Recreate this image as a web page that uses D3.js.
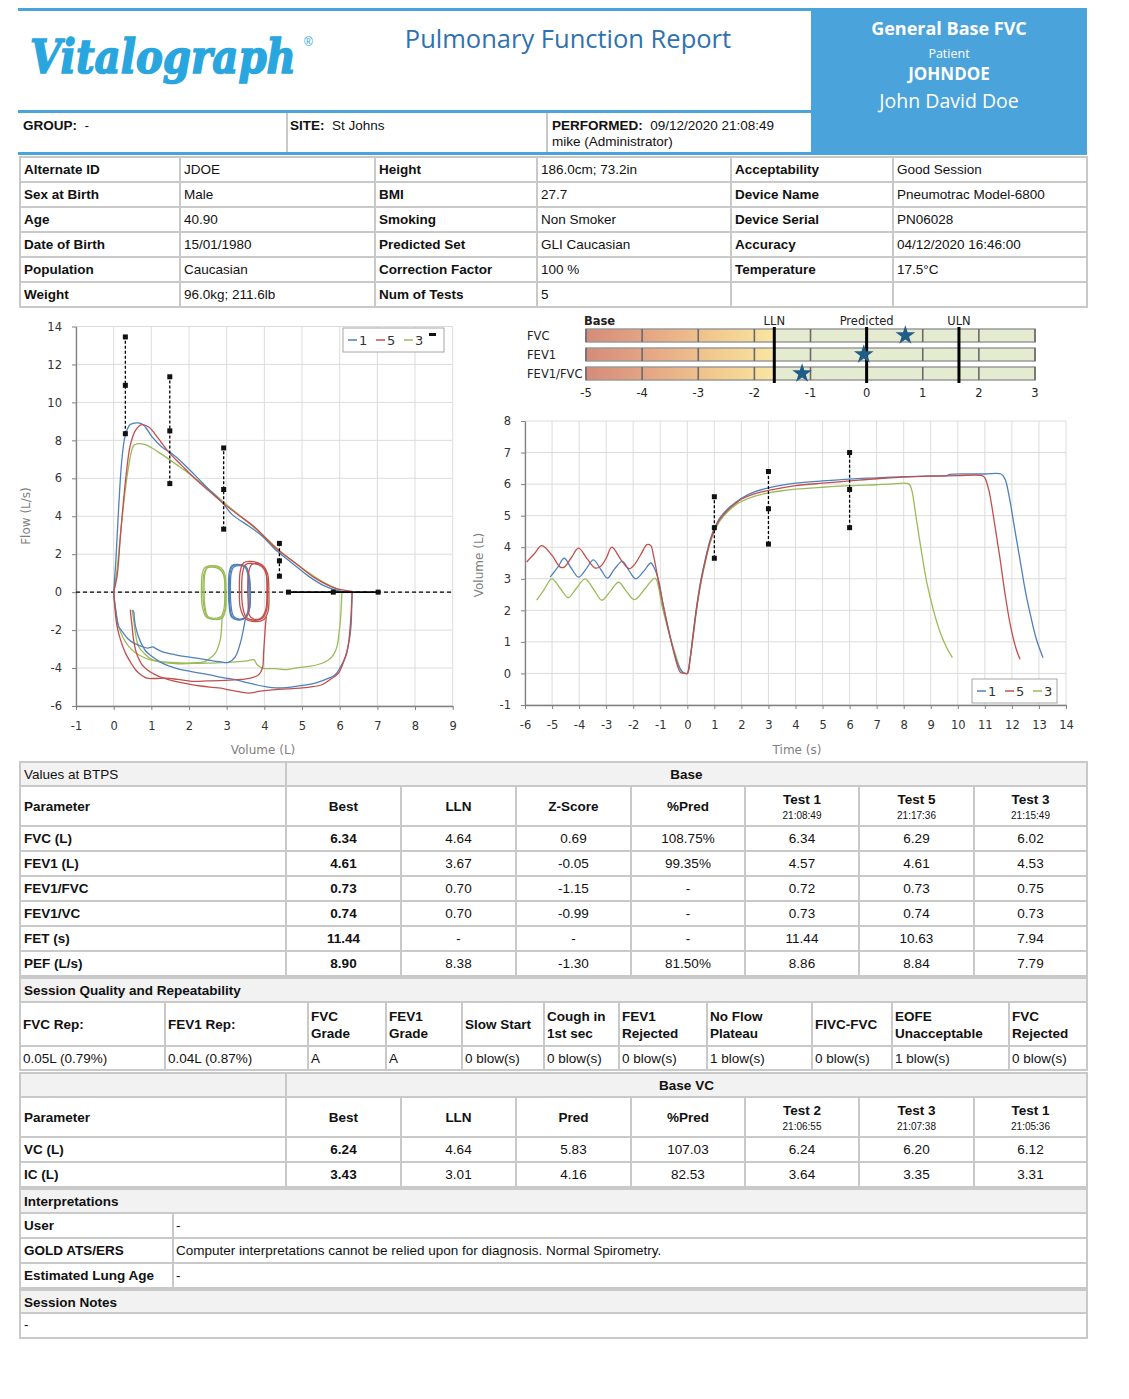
<!DOCTYPE html>
<html><head><meta charset="utf-8">
<script src="https://cdn.jsdelivr.net/npm/d3@7"></script>
<style>body{margin:0;background:#fff}</style>
</head><body>
<svg id="c" width="1129" height="1399"></svg>
<script>
// ---------------- DATA ----------------
const reportTitle = "Pulmonary Function Report";
const logoText = "Vitalograph";
const boxLines = ["General Base FVC","Patient","JOHNDOE","John David Doe"];
const infoCells = [["GROUP:","-"],["SITE:","St Johns"],["PERFORMED:","09/12/2020 21:08:49","mike (Administrator)"]];

const demoRows = [
 ["Alternate ID","JDOE","Height","186.0cm; 73.2in","Acceptability","Good Session"],
 ["Sex at Birth","Male","BMI","27.7","Device Name","Pneumotrac Model-6800"],
 ["Age","40.90","Smoking","Non Smoker","Device Serial","PN06028"],
 ["Date of Birth","15/01/1980","Predicted Set","GLI Caucasian","Accuracy","04/12/2020 16:46:00"],
 ["Population","Caucasian","Correction Factor","100 %","Temperature","17.5°C"],
 ["Weight","96.0kg; 211.6lb","Num of Tests","5","",""]
];

const tests = ["1","5","3"];
const testColors = ["#4f81bd","#c0504d","#9bbb59"];

// Flow-volume: tidal loops, inspiration to TLC, forced expiration, final inspiration  [volume L, flow L/s]
const fvTidal = [
 [ [[3.07,0],[3.09,1.0],[3.16,1.38],[3.32,1.44],[3.5,1.36],[3.58,0.9],[3.62,0],[3.6,-0.9],[3.5,-1.35],[3.32,-1.46],[3.15,-1.3],[3.08,-0.6],[3.07,0]],
   [[3.1,0],[3.12,1.0],[3.19,1.33],[3.34,1.4],[3.52,1.3],[3.6,0.85],[3.63,0],[3.61,-0.85],[3.52,-1.3],[3.34,-1.42],[3.18,-1.26],[3.11,-0.6],[3.1,0]],
   [[3.05,0],[3.07,1.05],[3.14,1.4],[3.3,1.46],[3.47,1.38],[3.56,0.95],[3.59,0],[3.57,-0.95],[3.47,-1.38],[3.3,-1.46],[3.13,-1.32],[3.06,-0.6],[3.05,0]] ],
 [ [[3.34,0],[3.36,1.1],[3.45,1.55],[3.65,1.62],[3.92,1.45],[4.08,1.0],[4.12,0],[4.1,-1.0],[3.98,-1.45],[3.75,-1.55],[3.5,-1.4],[3.36,-0.8],[3.34,0]],
   [[3.4,0],[3.42,1.0],[3.5,1.45],[3.68,1.52],[3.93,1.35],[4.05,0.95],[4.08,0],[4.06,-0.95],[3.95,-1.38],[3.75,-1.48],[3.52,-1.32],[3.42,-0.7],[3.4,0]],
   [[3.56,0],[3.58,1.0],[3.66,1.45],[3.85,1.5],[4.0,1.3],[4.06,0.8],[4.07,0],[4.04,-0.9],[3.92,-1.35],[3.72,-1.42],[3.6,-1.2],[3.57,-0.5],[3.56,0]] ],
 [ [[2.33,0],[2.35,0.95],[2.42,1.3],[2.58,1.38],[2.78,1.3],[2.92,0.95],[2.97,0],[2.96,-0.9],[2.86,-1.35],[2.65,-1.42],[2.45,-1.3],[2.35,-0.7],[2.33,0]],
   [[2.37,0],[2.39,0.9],[2.46,1.25],[2.6,1.32],[2.8,1.22],[2.92,0.9],[2.95,0],[2.93,-0.85],[2.84,-1.3],[2.65,-1.38],[2.47,-1.25],[2.39,-0.65],[2.37,0]],
   [[2.4,0],[2.42,0.95],[2.5,1.35],[2.64,1.4],[2.84,1.3],[2.95,0.95],[2.98,0],[2.97,-0.9],[2.88,-1.38],[2.68,-1.44],[2.5,-1.3],[2.42,-0.7],[2.4,0]] ]
];
const fvInsp = [
 [[3.5,-1.35],[3.42,-2.2],[3.36,-2.7],[3.23,-3.4],[3.05,-3.7],[2.8,-3.66],[2.52,-3.58],[2.1,-3.45],[1.64,-3.3],[1.3,-3.15],[1.1,-2.95],[1.05,-2.88],[0.9,-2.95],[0.75,-2.86],[0.55,-2.7],[0.4,-2.5],[0.2,-2.0],[0.13,-1.8],[0.06,-1.0],[0.02,-0.4],[0,0]],
 [[4.05,-1.3],[4.02,-2.0],[3.98,-3.2],[3.95,-4.0],[3.85,-4.35],[3.6,-4.55],[3.2,-4.62],[2.96,-4.65],[2.5,-4.68],[2.08,-4.7],[1.7,-4.6],[1.37,-4.53],[1.1,-4.55],[0.88,-4.53],[0.72,-4.35],[0.58,-4.09],[0.45,-3.7],[0.31,-3.2],[0.18,-2.5],[0.09,-1.8],[0.03,-0.8],[0,0]],
 [[2.88,-1.35],[2.86,-2.0],[2.83,-2.5],[2.7,-3.21],[2.55,-3.5],[2.43,-3.65],[2.2,-3.72],[1.9,-3.74],[1.5,-3.7],[1.19,-3.65],[0.95,-3.55],[0.75,-3.39],[0.55,-3.15],[0.4,-2.86],[0.25,-2.4],[0.13,-1.8],[0.05,-0.9],[0,0]]
];
const fvExp = [
 [[0,0],[0.06,1.72],[0.13,4.37],[0.22,7.03],[0.31,8.27],[0.44,8.83],[0.66,8.92],[0.8,8.8],[1.02,8.18],[1.28,7.65],[1.55,7.29],[1.81,6.85],[2.17,6.14],[2.52,5.43],[2.88,4.73],[3.14,4.1],[3.58,3.49],[3.94,2.96],[4.29,2.25],[4.73,1.54],[5.18,0.83],[5.62,0.3],[5.97,0.07],[6.33,0]],
 [[0,0],[0.09,0.83],[0.18,2.96],[0.31,5.79],[0.44,7.73],[0.58,8.53],[0.75,8.83],[0.93,8.7],[1.19,8.09],[1.46,7.38],[1.81,6.67],[2.17,5.96],[2.52,5.35],[2.88,4.73],[3.23,4.19],[3.76,3.4],[4.29,2.34],[4.82,1.54],[5.35,0.74],[5.88,0.21],[6.33,0.04]],
 [[0,0],[0.09,1.19],[0.22,3.84],[0.4,6.67],[0.53,7.73],[0.62,7.82],[0.84,7.77],[1.19,7.38],[1.64,6.76],[2.08,6.14],[2.52,5.43],[2.88,4.81],[3.41,3.93],[3.94,3.04],[4.47,2.07],[5.0,1.27],[5.53,0.57],[5.97,0.12],[6.06,0]]
];
const fvFinal = [
 [[6.33,0],[6.32,-0.8],[6.3,-1.8],[6.25,-2.6],[6.15,-3.39],[6.02,-3.95],[5.88,-4.35],[5.6,-4.62],[5.35,-4.79],[5.0,-4.92],[4.65,-5.02],[4.3,-5.05],[4.03,-4.98],[3.6,-4.8],[3.23,-4.61],[2.9,-4.5],[2.52,-4.35],[2.1,-4.2],[1.64,-4.0],[1.3,-3.75],[1.02,-3.39],[0.85,-3.1],[0.75,-2.77],[0.65,-2.3],[0.58,-1.8],[0.55,-1.4],[0.53,-1.02],[0.5,-0.95]],
 [[6.33,0],[6.31,-0.9],[6.28,-1.8],[6.24,-2.6],[6.19,-3.2],[6.08,-3.8],[5.97,-4.26],[5.75,-4.6],[5.53,-4.88],[5.2,-5.0],[5.0,-5.05],[4.6,-5.1],[4.29,-5.14],[3.9,-5.22],[3.58,-5.32],[3.35,-5.25],[3.14,-5.18],[2.79,-5.05],[2.35,-4.96],[2.0,-4.85],[1.64,-4.7],[1.35,-4.55],[1.1,-4.35],[0.9,-4.1],[0.75,-3.82],[0.65,-3.45],[0.58,-3.04],[0.52,-2.4],[0.49,-1.8],[0.46,-1.3],[0.44,-0.93]],
 [[6.06,0],[6.04,-0.8],[6.02,-1.46],[5.98,-2.2],[5.93,-2.86],[5.85,-3.25],[5.71,-3.56],[5.45,-3.8],[5.18,-3.91],[4.9,-3.98],[4.6,-4.08],[4.29,-4.03],[3.94,-4.0],[3.8,-3.8],[3.72,-3.56],[3.55,-3.62],[3.41,-3.65],[3.0,-3.7],[2.52,-3.74],[2.1,-3.75],[1.64,-3.77],[1.3,-3.7],[1.02,-3.56],[0.82,-3.25],[0.66,-2.86],[0.58,-2.2],[0.53,-1.46],[0.49,-0.93]]
];
// predicted markers on flow-volume: [volume, LLN, pred, ULN]
const fvBars = [[0.31,8.35,10.9,13.45],[1.49,5.72,8.5,11.35],[2.92,3.32,5.41,7.6],[4.4,0.84,1.65,2.57]];
const fvcRange = [4.64,5.83,7.02];

// Volume-time [time s, volume L]
const vtSeries = [
 [[-5.07,3.05],[-4.8,3.35],[-4.55,3.65],[-4.3,3.35],[-4.02,3.05],[-3.75,3.3],[-3.47,3.6],[-3.2,3.3],[-2.95,3.02],[-2.7,3.3],[-2.4,3.55],[-2.15,3.25],[-1.9,3.0],[-1.6,3.25],[-1.35,3.5],[-1.2,3.3],[-1.05,2.9],[-0.9,2.2],[-0.7,1.4],[-0.5,0.7],[-0.3,0.2],[-0.15,0.03],[0,0],[0.1,0.45],[0.2,1.15],[0.35,2.15],[0.5,2.95],[0.7,3.75],[0.85,4.25],[1.0,4.6],[1.2,4.92],[1.5,5.22],[1.8,5.43],[2.0,5.55],[2.5,5.76],[3.0,5.88],[3.5,5.97],[4.0,6.03],[5.0,6.1],[6.0,6.16],[7.0,6.2],[8.0,6.24],[9.0,6.26],[9.6,6.27],[9.7,6.31],[11.0,6.32],[11.6,6.32],[11.75,6.15],[11.9,5.6],[12.1,4.6],[12.3,3.6],[12.5,2.6],[12.7,1.8],[12.9,1.1],[13.15,0.5]],
 [[-5.94,3.53],[-5.65,3.8],[-5.38,4.05],[-5.0,3.74],[-4.7,3.37],[-4.55,3.37],[-4.3,3.65],[-4.02,3.97],[-3.7,3.63],[-3.4,3.34],[-3.2,3.4],[-3.0,3.65],[-2.79,4.0],[-2.45,3.6],[-2.15,3.32],[-1.95,3.45],[-1.7,3.8],[-1.49,4.08],[-1.35,4.05],[-1.25,3.74],[-1.06,2.89],[-0.81,1.84],[-0.56,0.89],[-0.37,0.26],[-0.25,0.03],[-0.06,0],[0,0],[0.1,0.45],[0.2,1.1],[0.35,2.1],[0.5,2.9],[0.7,3.7],[0.85,4.2],[1.0,4.55],[1.2,4.88],[1.5,5.18],[1.8,5.4],[2.0,5.52],[2.5,5.7],[3.0,5.8],[3.5,5.88],[4.0,5.95],[5.0,6.03],[6.0,6.1],[7.0,6.17],[8.0,6.22],[9.0,6.25],[10.0,6.27],[10.9,6.27],[11.0,6.2],[11.15,5.8],[11.35,4.8],[11.55,3.7],[11.75,2.5],[11.95,1.5],[12.15,0.8],[12.3,0.45]],
 [[-5.57,2.32],[-5.3,2.65],[-5.01,3.0],[-4.7,2.7],[-4.4,2.4],[-4.1,2.7],[-3.78,3.0],[-3.45,2.65],[-3.16,2.32],[-2.85,2.6],[-2.54,2.89],[-2.25,2.6],[-1.95,2.34],[-1.55,2.7],[-1.19,3.02],[-0.94,2.16],[-0.69,1.32],[-0.43,0.58],[-0.19,0.05],[0,0],[0.1,0.42],[0.2,1.05],[0.35,2.05],[0.5,2.85],[0.7,3.65],[0.85,4.15],[1.0,4.5],[1.2,4.83],[1.5,5.13],[1.8,5.35],[2.0,5.45],[2.5,5.62],[3.0,5.72],[3.5,5.79],[4.0,5.84],[5.0,5.9],[6.0,5.95],[7.0,5.98],[7.5,6.0],[8.2,6.0],[8.3,5.8],[8.45,5.0],[8.65,3.9],[8.85,2.9],[9.1,2.0],[9.35,1.3],[9.6,0.8],[9.8,0.5]]
];
const vtBars = [[1,3.65,4.62,5.6],[3,4.1,5.22,6.4],[6,4.62,5.83,7.0]];

const fvXTicks = [-1,0,1,2,3,4,5,6,7,8,9];
const fvYTicks = [-6,-4,-2,0,2,4,6,8,10,12,14];
const vtXTicks = d3.range(-6,15);
const vtYTicks = d3.range(-1,9);

// Z-score
const zParams = ["FVC","FEV1","FEV1/FVC"];
const zScores = [0.69,-0.05,-1.15];
const zTicks = [-5,-4,-3,-2,-1,0,1,2,3];
const zLLN = -1.645, zULN = 1.645;
const zHeads = [["LLN",-1.645],["Predicted",0],["ULN",1.645]];

// Tables
const btpsHeaders = ["Best","LLN","Z-Score","%Pred"];
const btpsTests = ["Test 1","Test 5","Test 3"];
const btpsTimes = ["21:08:49","21:17:36","21:15:49"];
const btpsParams = ["FVC (L)","FEV1 (L)","FEV1/FVC","FEV1/VC","FET (s)","PEF (L/s)"];
const btpsBest = ["6.34","4.61","0.73","0.74","11.44","8.90"];
const btpsLLN = ["4.64","3.67","0.70","0.70","-","8.38"];
const btpsZ = ["0.69","-0.05","-1.15","-0.99","-","-1.30"];
const btpsPct = ["108.75%","99.35%","-","-","-","81.50%"];
const btpsT1 = ["6.34","4.57","0.72","0.73","11.44","8.86"];
const btpsT5 = ["6.29","4.61","0.73","0.74","10.63","8.84"];
const btpsT3 = ["6.02","4.53","0.75","0.73","7.94","7.79"];

const sqHeaders = [["FVC Rep:"],["FEV1 Rep:"],["FVC","Grade"],["FEV1","Grade"],["Slow Start"],["Cough in","1st sec"],["FEV1","Rejected"],["No Flow","Plateau"],["FIVC-FVC"],["EOFE","Unacceptable"],["FVC","Rejected"]];
const sqValues = ["0.05L (0.79%)","0.04L (0.87%)","A","A","0 blow(s)","0 blow(s)","0 blow(s)","1 blow(s)","0 blow(s)","1 blow(s)","0 blow(s)"];

const vcHeaders = ["Best","LLN","Pred","%Pred"];
const vcTests = ["Test 2","Test 3","Test 1"];
const vcTimes = ["21:06:55","21:07:38","21:05:36"];
const vcParams = ["VC (L)","IC (L)"];
const vcBest = ["6.24","3.43"], vcLLN = ["4.64","3.01"], vcPred = ["5.83","4.16"], vcPct = ["107.03","82.53"];
const vcT2 = ["6.24","3.64"], vcT3 = ["6.20","3.35"], vcT1 = ["6.12","3.31"];

const interpRows = [["User","-"],["GOLD ATS/ERS","Computer interpretations cannot be relied upon for diagnosis. Normal Spirometry."],["Estimated Lung Age","-"]];
const sessionNotes = "-";

// ---------------- DRAW ----------------
const svg = d3.select("#c");
const F = '"Liberation Sans", Arial, sans-serif';
const FC = '"DejaVu Sans", Verdana, sans-serif';
const FH = '"Open Sans", "Noto Sans", sans-serif';
const BLUE = "#4ba3dc";
const GRID = "#c9c9c9";

function txt(g,x,y,s,o={}){
  return g.append("text").attr("x",x).attr("y",y).text(s)
    .attr("font-family",o.ff||F).attr("font-size",o.fs||13.5)
    .attr("font-weight",o.fw||"normal").attr("text-anchor",o.ta||"start")
    .attr("fill",o.fill||"#111");
}
function cell(x0,x1,y0,y1,fill){
  svg.append("rect").attr("x",x0).attr("y",y0).attr("width",x1-x0).attr("height",y1-y0)
    .attr("fill",fill||"#fff").attr("stroke",GRID).attr("stroke-width",2);
}

// Header
svg.append("rect").attr("x",18).attr("y",8).attr("width",793).attr("height",3).attr("fill",BLUE);
svg.append("rect").attr("x",811).attr("y",8).attr("width",276).attr("height",146).attr("fill",BLUE);
svg.append("rect").attr("x",18).attr("y",110).attr("width",793).attr("height",3).attr("fill",BLUE);
svg.append("rect").attr("x",18).attr("y",152).attr("width",1069).attr("height",3).attr("fill",BLUE);
[287,547].forEach(x=>svg.append("line").attr("x1",x).attr("x2",x).attr("y1",113).attr("y2",152).attr("stroke",GRID).attr("stroke-width",2));

// logo: measured so its natural width is 266px, then stretched vertically
const logoG = svg.append("g");
const logo = logoG.append("text").attr("x",0).attr("y",0).text(logoText)
  .attr("font-family",'"DejaVu Serif", serif').attr("font-size",46).attr("font-weight","bold")
  .attr("font-style","italic").attr("fill","#2aa6df").attr("stroke","#2aa6df").attr("stroke-width",1.4);
const natural = logo.node().getComputedTextLength();
const k = 266/natural;
logo.attr("font-size",46*k);
logoG.attr("transform",`translate(30,73) scale(1,${(1/k).toFixed(3)})`);
txt(svg,304,46,"®",{ff:F,fs:12,fill:"#2aa6df"});

txt(svg,568,48,reportTitle,{ff:FH,fs:25.5,ta:"middle",fill:"#2f72b0"});
txt(svg,949,35,boxLines[0],{ff:FH,fs:18,fw:"bold",ta:"middle",fill:"#fff"});
txt(svg,949,58,boxLines[1],{ff:FH,fs:12.5,ta:"middle",fill:"#fff"});
txt(svg,949,80,boxLines[2],{ff:FH,fs:17,fw:"bold",ta:"middle",fill:"#fff"});
txt(svg,949,108,boxLines[3],{ff:FH,fs:19.5,ta:"middle",fill:"#fff"});

const infoX = [23,290,552];
infoCells.forEach((c,i)=>{
  const t = txt(svg,infoX[i],130,"",{});
  t.append("tspan").attr("font-weight","bold").text(c[0]);
  t.append("tspan").text("\u00a0 "+c[1]);
  if(c[2]) txt(svg,infoX[i],146,c[2],{});
});

// Demographics table
const demoCols = [20,180,375,537,731,893,1087];
demoRows.forEach((r,ri)=>{
  const y0 = 157+ri*25;
  r.forEach((v,ci)=>cell(demoCols[ci],demoCols[ci+1],y0,y0+25));
});
demoRows.forEach((r,ri)=>{
  const y0 = 157+ri*25;
  r.forEach((v,ci)=>txt(svg,demoCols[ci]+4,y0+17,v,{fw:ci%2===0?"bold":"normal"}));
});

// ---------- Chart helpers ----------
function frame(x,y,xt,yt,xTitle,yTitle,xtX,ytX,ytY){
  const g = svg.append("g");
  const [x0,x1] = x.range(), [y0,y1] = y.range();
  g.selectAll(".gx").data(xt).join("line").attr("x1",d=>x(d)).attr("x2",d=>x(d)).attr("y1",y0).attr("y2",y1).attr("stroke","#dcdcdc");
  g.selectAll(".gy").data(yt).join("line").attr("y1",d=>y(d)).attr("y2",d=>y(d)).attr("x1",x0).attr("x2",x1).attr("stroke","#dcdcdc");
  const ax = g.append("g").attr("transform",`translate(0,${y0})`)
    .call(d3.axisBottom(x).tickValues(xt).tickFormat(d=>String(d)).tickSize(4).tickPadding(12).tickSizeOuter(0));
  const ay = g.append("g").attr("transform",`translate(${x0},0)`)
    .call(d3.axisLeft(y).tickValues(yt).tickFormat(d=>String(d)).tickSize(4).tickPadding(10).tickSizeOuter(0));
  [ax,ay].forEach(a=>{
    a.select(".domain").attr("stroke","#808080").attr("stroke-width",1.3);
    a.selectAll(".tick line").attr("stroke","#808080");
    a.selectAll("text").attr("font-family",FC).attr("font-size",11.5).attr("fill","#333");
  });
  txt(g,xtX,754,xTitle,{ff:FC,fs:12,ta:"middle",fill:"#7f7f7f"});
  txt(g,0,0,yTitle,{ff:FC,fs:12,ta:"middle",fill:"#7f7f7f"}).attr("transform",`translate(${ytX},${ytY}) rotate(-90)`);
  return g;
}
function errBars(g,x,y,bars){
  bars.forEach(b=>{
    g.append("line").attr("x1",x(b[0])).attr("x2",x(b[0])).attr("y1",y(b[1])).attr("y2",y(b[3]))
      .attr("stroke","#000").attr("stroke-width",1.3).attr("stroke-dasharray","3,2");
    [b[1],b[2],b[3]].forEach(v=>g.append("rect").attr("x",x(b[0])-2.5).attr("y",y(v)-2.5).attr("width",5).attr("height",5).attr("fill","#111"));
  });
}
function legend(g,x0,y0,w,h,extra){
  g.append("rect").attr("x",x0).attr("y",y0).attr("width",w).attr("height",h).attr("fill","#fff").attr("stroke","#a6a6a6");
  tests.forEach((t,i)=>{
    const lx = x0+5+i*28;
    g.append("line").attr("x1",lx).attr("x2",lx+9).attr("y1",y0+h/2).attr("y2",y0+h/2).attr("stroke",testColors[i]).attr("stroke-width",1.5);
    txt(g,lx+11,y0+h/2+5,t,{ff:FC,fs:13,fill:"#333"});
  });
  if(extra) g.append("rect").attr("x",x0+w-15).attr("y",y0+5).attr("width",7).attr("height",3).attr("fill","#111");
}

// ---------- Flow-volume ----------
const fx = d3.scaleLinear().domain([-1,9]).range([76,452.7]);
const fy = d3.scaleLinear().domain([-6,14]).range([706,326.5]);
const fg = frame(fx,fy,fvXTicks,fvYTicks,"Volume (L)","Flow (L/s)",263,30,516);
fg.append("line").attr("x1",fx(-1)).attr("x2",fx(9)).attr("y1",fy(0)).attr("y2",fy(0)).attr("stroke","#000").attr("stroke-width",1.2).attr("stroke-dasharray","4,3");
const fline = d3.line().x(d=>fx(d[0])).y(d=>fy(d[1])).curve(d3.curveCatmullRom.alpha(0.5));
[2,0,1].forEach(i=>{
  const segs = [...fvTidal[i], fvInsp[i], fvExp[i], fvFinal[i]];
  segs.forEach(s=>fg.append("path").attr("d",fline(s)).attr("fill","none").attr("stroke",testColors[i]).attr("stroke-width",1.3));
});
errBars(fg,fx,fy,fvBars);
fg.append("line").attr("x1",fx(fvcRange[0])).attr("x2",fx(fvcRange[2])).attr("y1",fy(0)).attr("y2",fy(0)).attr("stroke","#000").attr("stroke-width",1.6);
fvcRange.forEach(v=>fg.append("rect").attr("x",fx(v)-2.5).attr("y",fy(0)-2.5).attr("width",5).attr("height",5).attr("fill","#111"));
legend(fg,343,328,101,24,true);

// ---------- Volume-time ----------
const vx = d3.scaleLinear().domain([-6,14]).range([525,1066]);
const vy = d3.scaleLinear().domain([-1,8]).range([705,421]);
const vg = frame(vx,vy,vtXTicks,vtYTicks,"Time (s)","Volume (L)",797,483,565);
const vline = d3.line().x(d=>vx(d[0])).y(d=>vy(d[1])).curve(d3.curveCatmullRom.alpha(0.5));
[2,0,1].forEach(i=>vg.append("path").attr("d",vline(vtSeries[i])).attr("fill","none").attr("stroke",testColors[i]).attr("stroke-width",1.3));
errBars(vg,vx,vy,vtBars);
legend(vg,972,679,85,24,false);

// ---------- Z-score ----------
const zx = d3.scaleLinear().domain([-5,3]).range([586,1035]);
const zg = svg.append("g");
const defs = svg.append("defs");
const grad = defs.append("linearGradient").attr("id","zg").attr("gradientUnits","userSpaceOnUse")
  .attr("x1",zx(-5)).attr("x2",zx(zLLN)).attr("y1",0).attr("y2",0);
[["0%","#d58b79"],["35%","#e6a885"],["70%","#f2cb8f"],["100%","#f9e6a2"]].forEach(s=>grad.append("stop").attr("offset",s[0]).attr("stop-color",s[1]));
const zRowY = [329,348,367];
zParams.forEach((p,i)=>{
  const y0 = zRowY[i];
  zg.append("rect").attr("x",zx(-5)).attr("y",y0).attr("width",zx(zLLN)-zx(-5)).attr("height",13).attr("fill","url(#zg)");
  zg.append("rect").attr("x",zx(zLLN)).attr("y",y0).attr("width",zx(3)-zx(zLLN)).attr("height",13).attr("fill","#e5ebd0");
  zg.append("rect").attr("x",zx(-5)).attr("y",y0).attr("width",zx(3)-zx(-5)).attr("height",13).attr("fill","none").attr("stroke","#9a9a9a").attr("stroke-width",1.5);
  zTicks.forEach(t=>zg.append("line").attr("x1",zx(t)).attr("x2",zx(t)).attr("y1",y0).attr("y2",y0+13).attr("stroke","#6a6a6a").attr("stroke-width",1.6));
  txt(zg,527,y0+11,p,{ff:FC,fs:11.5,fill:"#222"});
});
[zLLN,0,zULN].forEach(v=>zg.append("line").attr("x1",zx(v)).attr("x2",zx(v)).attr("y1",327).attr("y2",383).attr("stroke","#000").attr("stroke-width",3));
zScores.forEach((z,i)=>zg.append("path").attr("d",d3.symbol(d3.symbolStar).size(120)())
  .attr("transform",`translate(${zx(z)},${zRowY[i]+6.5})`).attr("fill","#1f5d88"));
txt(zg,584,325,"Base",{ff:FC,fs:11.5,fw:"bold",fill:"#222"});
zHeads.forEach(h=>txt(zg,zx(h[1]),325,h[0],{ff:FC,fs:11.5,ta:"middle",fill:"#222"}));
zTicks.forEach(t=>txt(zg,zx(t),397,String(t),{ff:FC,fs:11.5,ta:"middle",fill:"#222"}));

// ---------- BTPS table ----------
const tc = [20,286,401,516,631,745,859,974,1087];
function mid(i){return (tc[i]+tc[i+1])/2;}
cell(20,286,762,786,"#f2f2f2"); cell(286,1087,762,786,"#f2f2f2");
txt(svg,24,779,"Values at BTPS");
txt(svg,(286+1087)/2,779,"Base",{fw:"bold",ta:"middle"});
for(let c=0;c<8;c++) cell(tc[c],tc[c+1],786,826);
txt(svg,24,811,"Parameter",{fw:"bold"});
btpsHeaders.forEach((h,i)=>txt(svg,mid(i+1),811,h,{fw:"bold",ta:"middle"}));
btpsTests.forEach((h,i)=>{txt(svg,mid(i+5),804,h,{fw:"bold",ta:"middle"}); txt(svg,mid(i+5),819,btpsTimes[i],{fs:10,ta:"middle"});});
const btpsCols = [btpsBest,btpsLLN,btpsZ,btpsPct,btpsT1,btpsT5,btpsT3];
btpsParams.forEach((p,r)=>{
  const y0 = 826+r*25;
  for(let c=0;c<8;c++) cell(tc[c],tc[c+1],y0,y0+25);
  txt(svg,24,y0+17,p,{fw:"bold"});
  btpsCols.forEach((col,c)=>txt(svg,mid(c+1),y0+17,col[r],{ta:"middle",fw:c===0?"bold":"normal"}));
});

// ---------- Session quality ----------
const sc = [20,165,308,386,462,544,619,707,812,892,1009,1087];
cell(20,1087,978,1002,"#f2f2f2");
txt(svg,24,995,"Session Quality and Repeatability",{fw:"bold"});
sqHeaders.forEach((h,i)=>{
  cell(sc[i],sc[i+1],1002,1046);
  if(h.length===1) txt(svg,sc[i]+3,1029,h[0],{fw:"bold"});
  else {txt(svg,sc[i]+3,1021,h[0],{fw:"bold"}); txt(svg,sc[i]+3,1038,h[1],{fw:"bold"});}
  cell(sc[i],sc[i+1],1046,1070);
  txt(svg,sc[i]+3,1063,sqValues[i]);
});

// ---------- Base VC ----------
cell(20,286,1073,1097,"#f2f2f2"); cell(286,1087,1073,1097,"#f2f2f2");
txt(svg,(286+1087)/2,1090,"Base VC",{fw:"bold",ta:"middle"});
for(let c=0;c<8;c++) cell(tc[c],tc[c+1],1097,1137);
txt(svg,24,1122,"Parameter",{fw:"bold"});
vcHeaders.forEach((h,i)=>txt(svg,mid(i+1),1122,h,{fw:"bold",ta:"middle"}));
vcTests.forEach((h,i)=>{txt(svg,mid(i+5),1115,h,{fw:"bold",ta:"middle"}); txt(svg,mid(i+5),1130,vcTimes[i],{fs:10,ta:"middle"});});
const vcCols = [vcBest,vcLLN,vcPred,vcPct,vcT2,vcT3,vcT1];
vcParams.forEach((p,r)=>{
  const y0 = 1137+r*25;
  for(let c=0;c<8;c++) cell(tc[c],tc[c+1],y0,y0+25);
  txt(svg,24,y0+17,p,{fw:"bold"});
  vcCols.forEach((col,c)=>txt(svg,mid(c+1),y0+17,col[r],{ta:"middle",fw:c===0?"bold":"normal"}));
});

// ---------- Interpretations ----------
cell(20,1087,1189,1213,"#f2f2f2");
txt(svg,24,1206,"Interpretations",{fw:"bold"});
interpRows.forEach((r,i)=>{
  const y0 = 1213+i*25;
  cell(20,173,y0,y0+25); cell(173,1087,y0,y0+25);
  txt(svg,24,y0+17,r[0],{fw:"bold"});
  txt(svg,176,y0+17,r[1]);
});
cell(20,1087,1290,1313,"#f2f2f2");
txt(svg,24,1307,"Session Notes",{fw:"bold"});
cell(20,1087,1313,1338);
txt(svg,24,1329,sessionNotes);
</script>
</body></html>
